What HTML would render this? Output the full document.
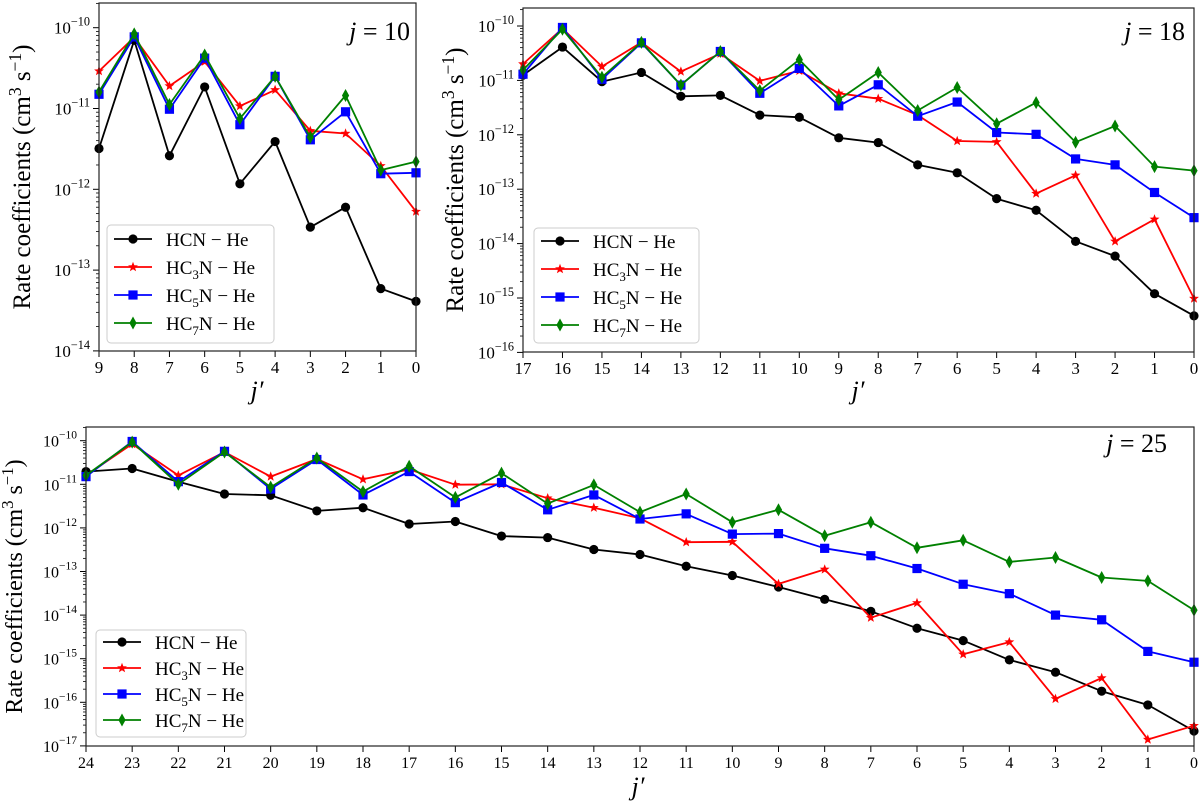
<!DOCTYPE html>
<html><head><meta charset="utf-8"><style>
body{margin:0;background:#fff;}
svg{display:block;font-family:"Liberation Serif",serif;}
</style></head><body>
<svg id="c" width="1200" height="801" viewBox="0 0 1200 801"></svg>
<script>
const NS="http://www.w3.org/2000/svg";
const svg=document.getElementById('c');
// ---- data ----
const jp10=[9,8,7,6,5,4,3,2,1,0];
const p1HCN=[3.2e-12,7e-11,2.6e-12,1.85e-11,1.17e-12,3.9e-12,3.4e-13,6e-13,5.9e-14,4.1e-14];
const p1HC3N=[2.9e-11,7.6e-11,1.9e-11,3.8e-11,1.07e-11,1.7e-11,5.3e-12,4.9e-12,1.95e-12,5.3e-13];
const p1HC5N=[1.5e-11,7.7e-11,9.8e-12,4.2e-11,6.3e-12,2.5e-11,4.1e-12,9.1e-12,1.56e-12,1.6e-12];
const p1HC7N=[1.6e-11,8.4e-11,1.12e-11,4.6e-11,7.5e-12,2.5e-11,4.4e-12,1.45e-11,1.73e-12,2.2e-12];
const jp18=[17,16,15,14,13,12,11,10,9,8,7,6,5,4,3,2,1,0];
const p2HCN=[1.25e-11,4.1e-11,9.5e-12,1.4e-11,5.1e-12,5.3e-12,2.3e-12,2.1e-12,8.8e-13,7.2e-13,2.8e-13,2.0e-13,6.7e-14,4.1e-14,1.1e-14,5.9e-15,1.2e-15,4.7e-16];
const p2HC3N=[2.0e-11,9e-11,1.8e-11,5e-11,1.45e-11,3.1e-11,9.8e-12,1.5e-11,5.8e-12,4.6e-12,2.3e-12,7.7e-13,7.4e-13,8.3e-14,1.8e-13,1.1e-14,2.8e-14,9.8e-16];
const p2HC5N=[1.3e-11,9.4e-11,1.05e-11,4.9e-11,8.2e-12,3.4e-11,5.8e-12,1.66e-11,3.4e-12,8.3e-12,2.2e-12,4e-12,1.1e-12,1.02e-12,3.6e-13,2.8e-13,8.7e-14,3e-14];
const p2HC7N=[1.55e-11,8.7e-11,1.14e-11,5e-11,8.2e-12,3.4e-11,6.5e-12,2.4e-11,4.4e-12,1.4e-11,2.8e-12,7.4e-12,1.6e-12,3.9e-12,7.3e-13,1.45e-12,2.6e-13,2.2e-13];
const jp25=[24,23,22,21,20,19,18,17,16,15,14,13,12,11,10,9,8,7,6,5,4,3,2,1,0];
const p3HCN=[1.96e-11,2.3e-11,1.15e-11,6e-12,5.6e-12,2.45e-12,2.9e-12,1.23e-12,1.4e-12,6.5e-13,6e-13,3.2e-13,2.45e-13,1.32e-13,8.1e-14,4.4e-14,2.3e-14,1.22e-14,5.0e-15,2.6e-15,9.4e-16,4.9e-16,1.8e-16,8.7e-17,2.2e-17];
const p3HC3N=[1.6e-11,8.4e-11,1.6e-11,5.5e-11,1.5e-11,3.8e-11,1.3e-11,2.2e-11,9.8e-12,1.0e-11,4.8e-12,2.9e-12,1.66e-12,4.7e-13,4.8e-13,5.2e-14,1.12e-13,8.7e-15,1.9e-14,1.26e-15,2.4e-15,1.2e-16,3.6e-16,1.4e-17,2.9e-17];
const p3HC5N=[1.5e-11,9.6e-11,1.15e-11,5.7e-11,7.8e-12,3.7e-11,5.7e-12,1.96e-11,3.8e-12,1.1e-11,2.6e-12,5.7e-12,1.6e-12,2.1e-12,7.2e-13,7.4e-13,3.4e-13,2.3e-13,1.17e-13,5.1e-14,3.1e-14,1e-14,7.8e-15,1.47e-15,8.3e-16];
const p3HC7N=[1.6e-11,9.3e-11,1.0e-11,5.5e-11,8.6e-12,4e-11,6.8e-12,2.6e-11,5e-12,1.8e-11,3.6e-12,9.7e-12,2.3e-12,6e-12,1.35e-12,2.6e-12,6.6e-13,1.35e-12,3.5e-13,5.2e-13,1.66e-13,2.1e-13,7.3e-14,6.1e-14,1.3e-14];
const seriesNames=["HCN","HC3N","HC5N","HC7N"];
const colors=["#000000","#ff0000","#0000ff","#008000"];

function el(tag,attrs,parent){const e=document.createElementNS(NS,tag);for(const k in attrs)e.setAttribute(k,attrs[k]);(parent||svg).appendChild(e);return e;}

function marker(g,k,x,y){
  const c=colors[k];let m;
  if(k===0){m=el('circle',{cx:x,cy:y,r:4.6,fill:c},g);}
  else if(k===1){let pts=[];for(let i=0;i<10;i++){const r=i%2?2.2:5.2;const a=-Math.PI/2+i*Math.PI/5;pts.push((x+r*Math.cos(a)).toFixed(1)+','+(y+r*Math.sin(a)).toFixed(1));}m=el('polygon',{points:pts.join(' '),fill:c},g);}
  else if(k===2){m=el('rect',{x:x-4.6,y:y-4.6,width:9.2,height:9.2,fill:c},g);}
  else {m=el('polygon',{points:`${x},${y-6.5} ${x+3.6},${y} ${x},${y+6.5} ${x-3.6},${y}`,fill:c},g);}
  
  
}

function panel(o){
  const g=el('g',{});
  
  
  const L=o.l,R=o.r,T=o.t,B=o.b;
  const n=o.cats.length;
  const xs=i=>L+(R-L)*i/(n-1);
  const ys=v=>o.y0+(-10-Math.log10(v))*o.dec;
  const cp=el('clipPath',{id:'cp'+o.id},g);el('rect',{x:L-8,y:T,width:R-L+16,height:B-T+8},cp);
  for(let e=-10;e>=o.ymin;e--){
    const y=ys(Math.pow(10,e));
    el('line',{x1:L-6,x2:L,y1:y,y2:y,stroke:'#000','stroke-width':1},g);
    const t=el('text',{x:L-9,y:y+6,'text-anchor':'end','font-size':o.fs,fill:'#000'},g);
    
    
    t.innerHTML=`10<tspan dy="-8" font-size="${o.fs*0.72}">−${-e}</tspan>`;
    for(let m=2;m<=9;m++){const yy=ys(m*Math.pow(10,e-1));if(yy<=B&&yy>=T)el('line',{x1:L-3,x2:L,y1:yy,y2:yy,stroke:'#000','stroke-width':0.8},g);}
  }
  for(let m=2;m<=9;m++){const yy=ys(m*1e-10);if(yy>=T)el('line',{x1:L-3,x2:L,y1:yy,y2:yy,stroke:'#000','stroke-width':0.8},g);}
  o.cats.forEach((c,i)=>{const x=xs(i);el('line',{x1:x,x2:x,y1:B,y2:B+6,stroke:'#000','stroke-width':1},g);
    const t=el('text',{x:x,y:B+22,'text-anchor':'middle','font-size':o.fs,fill:'#000'},g);t.textContent=c;
    
    });
  o.series.forEach((s,k)=>{
    const sg=el('g',{'clip-path':`url(#cp${o.id})`},g);
    
    
    el('polyline',{points:s.map((v,i)=>xs(i)+','+ys(v).toFixed(1)).join(' '),fill:'none',stroke:colors[k],'stroke-width':1.8,'stroke-linejoin':'round'},sg);
    s.forEach((v,i)=>marker(sg,k,xs(i),ys(v)));
  });
  const f=el('rect',{x:L,y:T,width:R-L,height:B-T,fill:'none',stroke:'#222','stroke-width':1.2},g);
  
  
  const tt=el('text',{x:o.tx,y:o.ty,'text-anchor':'end','font-size':26,fill:'#000'},g);
  
  
  tt.innerHTML=`<tspan font-style="italic">j</tspan> = ${o.j}`;
  const yl=el('text',{x:0,y:0,'text-anchor':'middle','font-size':o.yfs,fill:'#000',transform:`translate(${o.ylx},${(T+B)/2}) rotate(-90)`},g);
  
  
  yl.innerHTML=`Rate coefficients (cm<tspan dy="-9" font-size="${o.yfs*0.7}">3</tspan><tspan dy="9"> s</tspan><tspan dy="-9" font-size="${o.yfs*0.7}">−1</tspan><tspan dy="9">)</tspan>`;
  const xl=el('text',{x:o.xlx,y:o.xly,'text-anchor':'middle','font-size':26,'font-style':'italic',fill:'#000'},g);
  
  
  xl.textContent='j′';
  const lg=el('g',{},g);
  
  
  el('rect',{x:o.lg[0],y:o.lg[1],width:o.lg[2],height:o.lg[3],rx:4,fill:'#fff','fill-opacity':0.85,stroke:'#ccc','stroke-width':1},lg);
  const labels=['HCN − He','HC<tspan font-size="13" dy="5">3</tspan><tspan dy="-5">N − He</tspan>','HC<tspan font-size="13" dy="5">5</tspan><tspan dy="-5">N − He</tspan>','HC<tspan font-size="13" dy="5">7</tspan><tspan dy="-5">N − He</tspan>'];
  for(let k=0;k<4;k++){
    const ey=o.lg[1]+o.le0+k*o.les;
    const eg=el('g',{},lg);
    
    
    const lx=o.lg[0]+7;
    el('line',{x1:lx,x2:lx+38,y1:ey,y2:ey,stroke:colors[k],'stroke-width':1.8},eg);
    marker(eg,k,lx+19,ey);
    const t=el('text',{x:lx+52,y:ey+7,'font-size':19,fill:'#000'},eg);
    t.innerHTML=labels[k];
  }
}

panel({id:1,name:'panel-j10',l:99,r:416,t:3,b:351,y0:27.7,dec:80.8,ymin:-14,cats:jp10,series:[p1HCN,p1HC3N,p1HC5N,p1HC7N],fs:17,tx:410,ty:40,j:10,ylx:30,yfs:25,xlx:257,xly:399,lg:[107,225,167,118],le0:14,les:28});
panel({id:2,name:'panel-j18',l:523,r:1194,t:8,b:352,y0:26,dec:54.4,ymin:-16,cats:jp18,series:[p2HCN,p2HC3N,p2HC5N,p2HC7N],fs:17,tx:1185,ty:40,j:18,ylx:463,yfs:25,xlx:858,xly:399,lg:[534,228,165,115],le0:13,les:28});
panel({id:3,name:'panel-j25',l:86,r:1194,t:427,b:746,y0:440.7,dec:43.6,ymin:-17,cats:jp25,series:[p3HCN,p3HC3N,p3HC5N,p3HC7N],fs:16,tx:1167,ty:452,j:25,ylx:22,yfs:24,xlx:638,xly:795,lg:[96,630,150,107],le0:12,les:26});
</script>
</body></html>
